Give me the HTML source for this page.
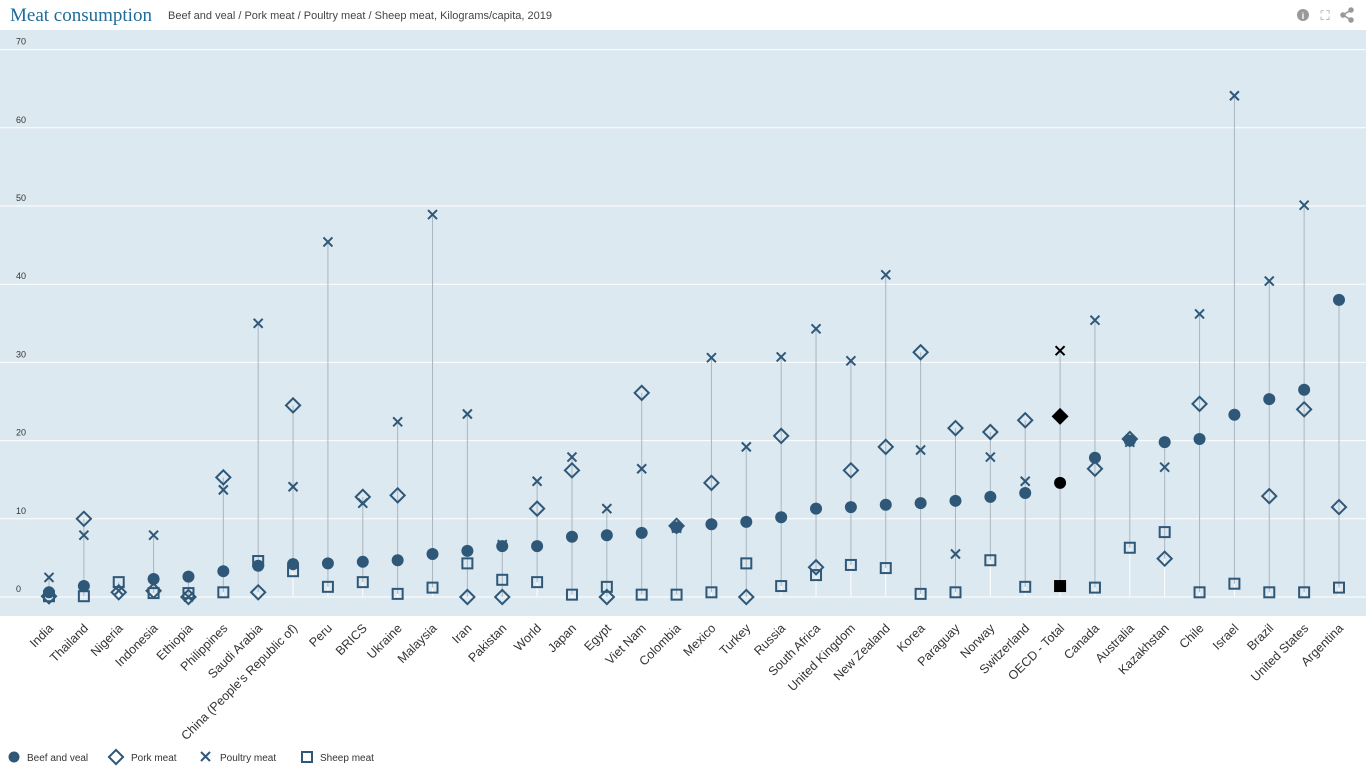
<!DOCTYPE html>
<html><head><meta charset="utf-8"><style>
body{margin:0;width:1366px;height:768px;background:#fff;overflow:hidden;font-family:"Liberation Sans",sans-serif}
svg{display:block}
</style></head><body>
<svg id="chart" width="1366" height="768">
<text x="10" y="21" font-family="Liberation Serif,serif" font-size="19" fill="#1f6b9a">Meat consumption</text>
<text x="168" y="19" font-size="11" fill="#444">Beef and veal / Pork meat / Poultry meat / Sheep meat, Kilograms/capita, 2019</text>
<g><circle cx="1303" cy="15" r="6" fill="#999"/><text x="1303" y="19" font-size="9" font-weight="bold" fill="#fff" text-anchor="middle">i</text></g>
<text x="1325" y="20" font-size="13" fill="#999" text-anchor="middle">⛶</text>
<g fill="#999" stroke="#999" stroke-width="1.5"><line x1="1343" y1="15" x2="1351" y2="10"/><line x1="1343" y1="15" x2="1351" y2="20"/><circle cx="1343" cy="15" r="2"/><circle cx="1351" cy="10" r="2"/><circle cx="1351" cy="20" r="2"/></g>
<rect x="0" y="30" width="1366" height="586" fill="#dde9f1"/>
<g id="grid"></g><g id="stems"></g><g id="marks"></g><g id="xlabels"></g>
<g font-size="10" fill="#333">
<g><circle cx="14" cy="757" r="5.5" fill="#2f5878"/><text x="27" y="761">Beef and veal</text></g>
<g><rect x="111" y="752" width="10" height="10" transform="rotate(45 116 757)" fill="none" stroke="#2f5878" stroke-width="2"/><text x="131" y="761">Pork meat</text></g>
<g><path d="M201 752l9 9M210 752l-9 9" stroke="#2f5878" stroke-width="2"/><text x="220" y="761">Poultry meat</text></g>
<g><rect x="302" y="752" width="10" height="10" fill="none" stroke="#2f5878" stroke-width="2"/><text x="320" y="761">Sheep meat</text></g>
</g>
</svg>
<script>
const categories=["India","Thailand","Nigeria","Indonesia","Ethiopia","Philippines","Saudi Arabia","China (People's Republic of)","Peru","BRICS","Ukraine","Malaysia","Iran","Pakistan","World","Japan","Egypt","Viet Nam","Colombia","Mexico","Turkey","Russia","South Africa","United Kingdom","New Zealand","Korea","Paraguay","Norway","Switzerland","OECD - Total","Canada","Australia","Kazakhstan","Chile","Israel","Brazil","United States","Argentina"];
const beef=[0.6,1.4,null,2.3,2.6,3.3,4.0,4.2,4.3,4.5,4.7,5.5,5.9,6.5,6.5,7.7,7.9,8.2,8.9,9.3,9.6,10.2,11.3,11.5,11.8,12.0,12.3,12.8,13.3,14.6,17.8,20.0,19.8,20.2,23.3,25.3,26.5,38.0];
const pork=[0.1,10.0,0.6,0.8,0.0,15.3,0.6,24.5,null,12.8,13.0,null,0.0,0.0,11.3,16.2,0.0,26.1,9.1,14.6,0.0,20.6,3.8,16.2,19.2,31.3,21.6,21.1,22.6,23.1,16.4,20.2,4.9,24.7,null,12.9,24.0,11.5];
const poultry=[2.5,7.9,0.8,7.9,0.0,13.7,35.0,14.1,45.4,12.0,22.4,48.9,23.4,6.7,14.8,17.9,11.3,16.4,8.8,30.6,19.2,30.7,34.3,30.2,41.2,18.8,5.5,17.9,14.8,31.5,35.4,19.8,16.6,36.2,64.1,40.4,50.1,null];
const sheep=[0.1,0.1,1.9,0.5,0.5,0.6,4.6,3.3,1.3,1.9,0.4,1.2,4.3,2.2,1.9,0.3,1.3,0.3,0.3,0.6,4.3,1.4,2.8,4.1,3.7,0.4,0.6,4.7,1.3,1.4,1.2,6.3,8.3,0.6,1.7,0.6,0.6,1.2];
const yTicks=[0,10,20,30,40,50,60,70];
const NS="http://www.w3.org/2000/svg";
const yS=v=>597-v*7.82;
const xS=i=>49+i*(1290/(categories.length-1));
function mk(p,t,a){const e=document.createElementNS(NS,t);for(const k in a)e.setAttribute(k,a[k]);p.appendChild(e);return e;}
const grid=document.getElementById('grid'),stems=document.getElementById('stems'),marks=document.getElementById('marks'),xl=document.getElementById('xlabels');
yTicks.forEach(t=>{
 const l=mk(grid,'line',{x1:0,x2:1366,y1:yS(t),y2:yS(t),stroke:'#fff','stroke-width':1});
 
 
 const tx=mk(grid,'text',{x:16,y:yS(t)-5,'font-size':9,fill:'#333'});tx.textContent=t;
 
 
});
categories.forEach((c,i)=>{
 const x=xS(i),oecd=c==="OECD - Total",col=oecd?'#000':'#2f5878';
 const vals=[beef[i],pork[i],poultry[i],sheep[i]].filter(v=>v!=null);
 const mn=Math.min(...vals),mx=Math.max(...vals);
 const w=mk(stems,'line',{x1:x,x2:x,y1:yS(0),y2:yS(mn),stroke:'#fff','stroke-width':1});
 
 
 const s=mk(stems,'line',{x1:x,x2:x,y1:yS(mn),y2:yS(mx),stroke:'#a9b6c0','stroke-width':1});
 
 
 if(beef[i]!=null){const e=mk(marks,'circle',{cx:x,cy:yS(beef[i]),r:6,fill:col});
  
  }
 if(sheep[i]!=null){const y=yS(sheep[i]);const e=mk(marks,'rect',{x:x-5,y:y-5,width:10,height:10,fill:oecd?'#000':'none',stroke:col,'stroke-width':2});
  
  }
 if(pork[i]!=null){const y=yS(pork[i]);const e=mk(marks,'rect',{x:x-5,y:y-5,width:10,height:10,fill:oecd?'#000':'none',stroke:col,'stroke-width':2,transform:`rotate(45 ${x} ${y})`});
  
  }
 if(poultry[i]!=null){const y=yS(poultry[i]);const e=mk(marks,'path',{d:`M${x-4.5} ${y-4.5}l9 9M${x+4.5} ${y-4.5}l-9 9`,stroke:col,'stroke-width':2});
  
  }
 const t=mk(xl,'text',{x:x+5,y:629,'font-size':12.5,fill:'#333','text-anchor':'end',transform:`rotate(-45 ${x+5} 629)`});
 t.textContent=c;
 
 
});
</script>
</body></html>
